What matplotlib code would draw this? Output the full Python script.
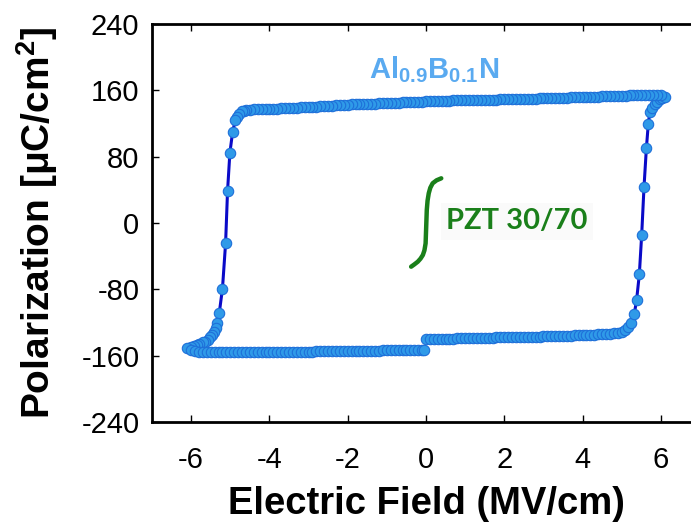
import numpy as np
import matplotlib
matplotlib.use("Agg")
import matplotlib.pyplot as plt

plt.rcParams['font.family'] = ['Liberation Sans', 'DejaVu Sans']
plt.rcParams['mathtext.fontset'] = 'custom'
plt.rcParams['mathtext.rm'] = 'Liberation Sans'
plt.rcParams['mathtext.bf'] = 'Liberation Sans:bold'
plt.rcParams['mathtext.it'] = 'Liberation Sans:italic'
plt.rcParams['axes.unicode_minus'] = False

# Al0.9B0.1N loop, in sweep order (E in MV/cm, P in uC/cm2)
# 1) bottom right, E going up from 0
e_up_low = [0.0, 0.1, 0.2, 0.3, 0.4, 0.5, 0.6, 0.7, 0.8, 0.9, 1.0, 1.1, 1.2, 1.3,
            1.4, 1.5, 1.6, 1.7, 1.8, 1.9, 2.0, 2.1, 2.2, 2.3, 2.4, 2.5, 2.6, 2.7,
            2.8, 2.9, 3.0, 3.1, 3.2, 3.3, 3.4, 3.5, 3.6, 3.7, 3.8, 3.9, 4.0, 4.1,
            4.2, 4.3, 4.4, 4.5, 4.6, 4.7, 4.8, 4.9, 5.0]
p_up_low = [-140.0, -139.9, -139.8, -139.7, -139.6, -139.5, -139.4, -139.3, -139.2,
            -139.1, -139.0, -138.9, -138.8, -138.7, -138.6, -138.4, -138.3, -138.1,
            -138.0, -137.9, -137.8, -137.7, -137.6, -137.5, -137.4, -137.3, -137.2,
            -137.1, -137.0, -136.9, -136.8, -136.6, -136.5, -136.3, -136.2, -136.0,
            -135.9, -135.7, -135.6, -135.4, -135.2, -135.0, -134.8, -134.6, -134.4,
            -134.1, -133.8, -133.4, -133.0, -132.4, -131.5]
# 2) switching at positive field, up to the tip
e_sw_pos = [5.09, 5.16, 5.23, 5.32, 5.38, 5.45, 5.51, 5.57, 5.63, 5.68, 5.72, 5.78,
            5.85, 5.91, 5.97, 6.04, 6.10]
p_sw_pos = [-129, -125, -121, -110, -93, -62, -14.5, 43.8, 90, 120, 134, 139,
            143, 146, 149, 151, 152.4]
# 3) top branch, E going back down
e_dn_top = [6.0, 5.9, 5.8, 5.7, 5.6, 5.5, 5.4, 5.3, 5.2, 5.1, 5.0, 4.9, 4.8, 4.7,
            4.6, 4.5, 4.4, 4.3, 4.2, 4.1, 4.0, 3.9, 3.8, 3.7, 3.6, 3.5, 3.4, 3.3,
            3.2, 3.1, 3.0, 2.9, 2.8, 2.7, 2.6, 2.5, 2.4, 2.3, 2.2, 2.1, 2.0, 1.9,
            1.8, 1.7, 1.6, 1.5, 1.4, 1.3, 1.2, 1.1, 1.0, 0.9, 0.8, 0.7, 0.6, 0.5,
            0.4, 0.3, 0.2, 0.1, 0.0, -0.1, -0.2, -0.3, -0.4, -0.5, -0.6, -0.7,
            -0.8, -0.9, -1.0, -1.1, -1.2, -1.3, -1.4, -1.5, -1.6, -1.7, -1.8, -1.9,
            -2.0, -2.1, -2.2, -2.3, -2.4, -2.5, -2.6, -2.7, -2.8, -2.9, -3.0, -3.1,
            -3.2, -3.3, -3.4, -3.5, -3.6, -3.7, -3.8, -3.9, -4.0, -4.1, -4.2, -4.3,
            -4.4, -4.5, -4.6]
p_dn_top = [154.6, 154.8, 154.8, 154.7, 154.5, 154.4, 154.2, 154.0, 153.8, 153.6,
            153.4, 153.3, 153.1, 153.0, 152.8, 152.7, 152.5, 152.4, 152.2, 152.1,
            151.9, 151.8, 151.6, 151.5, 151.3, 151.2, 151.0, 150.9, 150.7, 150.6,
            150.4, 150.3, 150.1, 150.0, 149.8, 149.7, 149.5, 149.4, 149.3, 149.2,
            149.1, 149.0, 148.9, 148.8, 148.7, 148.6, 148.5, 148.4, 148.3, 148.2,
            148.1, 148.0, 147.9, 147.8, 147.7, 147.6, 147.4, 147.2, 147.0, 146.8,
            146.6, 146.4, 146.2, 146.0, 145.8, 145.6, 145.4, 145.2, 145.0, 144.9,
            144.7, 144.5, 144.3, 144.1, 143.9, 143.8, 143.6, 143.4, 143.2, 143.0,
            142.7, 142.5, 142.2, 142.0, 141.7, 141.4, 141.1, 140.8, 140.5, 140.3,
            140.0, 139.7, 139.4, 139.1, 138.8, 138.6, 138.3, 138.1, 137.9, 137.8,
            137.6, 137.5, 137.3, 137.2, 137.0, 136.7, 136.2]
# 4) switching at negative field, down to the tip
e_sw_neg = [-4.65, -4.70, -4.77, -4.82, -4.87, -4.94, -5.01, -5.07, -5.12, -5.20,
            -5.28, -5.33, -5.37, -5.42, -5.46, -5.52, -5.58, -5.64, -5.70, -5.80,
            -5.86, -5.92, -6.01, -6.10]
p_sw_neg = [135.5, 134.5, 132, 128, 124, 110, 84.8, 38.6, -24.5, -79.2,
            -108, -121, -127, -131, -135, -138, -141, -143, -144, -146,
            -147, -148, -149.5, -151]
# 5) bottom left, E going back to 0
e_up_neg = [-6.0, -5.9, -5.8, -5.7, -5.6, -5.5, -5.4, -5.3, -5.2, -5.1, -5.0, -4.9,
            -4.8, -4.7, -4.6, -4.5, -4.4, -4.3, -4.2, -4.1, -4.0, -3.9, -3.8, -3.7,
            -3.6, -3.5, -3.4, -3.3, -3.2, -3.1, -3.0, -2.9, -2.8, -2.7, -2.6, -2.5,
            -2.4, -2.3, -2.2, -2.1, -2.0, -1.9, -1.8, -1.7, -1.6, -1.5, -1.4, -1.3,
            -1.2, -1.1, -1.0, -0.9, -0.8, -0.7, -0.6, -0.5, -0.4, -0.3, -0.2, -0.1,
            -0.05]
p_up_neg = [-153.0, -154.2, -155.0, -155.4, -155.6, -155.6, -155.6, -155.7, -155.7,
            -155.7, -155.7, -155.7, -155.7, -155.7, -155.7, -155.6, -155.6, -155.6,
            -155.6, -155.5, -155.5, -155.5, -155.4, -155.4, -155.3, -155.3, -155.2,
            -155.2, -155.1, -155.1, -155.0, -155.0, -154.9, -154.9, -154.8, -154.8,
            -154.7, -154.7, -154.6, -154.5, -154.4, -154.4, -154.3, -154.3, -154.2,
            -154.1, -154.0, -153.9, -153.8, -153.7, -153.6, -153.5, -153.4, -153.3,
            -153.2, -153.1, -153.0, -152.9, -152.8, -152.8, -153.0]

# PZT 30/70 curve
e_pzt = [-0.38, -0.30, -0.21, -0.14, -0.08, -0.04, -0.01, 0.005, 0.02, 0.04, 0.07,
         0.11, 0.17, 0.27, 0.39]
p_pzt = [-52.7, -50.0, -46.7, -43.0, -38.6, -33.0, -24.5, -4.5, 15.7, 27.0, 35.8,
         42.5, 47.9, 51.5, 53.9]

e_loop = e_up_low + e_sw_pos + e_dn_top + e_sw_neg + e_up_neg
p_loop = p_up_low + p_sw_pos + p_dn_top + p_sw_neg + p_up_neg

fig = plt.figure(figsize=(6.91, 5.29), dpi=100)
ax = fig.add_axes([152 / 691, 107 / 529, 548 / 691, 398 / 529])

ax.plot(e_loop, p_loop, color='#0a0ac8', lw=2.2, marker='o', ms=7.5,
        mfc='#2f9ae8', mec='#1e6fd9', mew=0.8, zorder=3)
ax.plot(e_pzt, p_pzt, color='#1a7f1a', lw=3.2, solid_capstyle='round', zorder=2)

ax.text(0.2, 175, r'$\mathbf{Al_{0.9}B_{0.1}N}$', color='#5aaaf0', fontsize=21,
        ha='center', va='baseline')
ax.text(0.52, 2, 'PZT 30/70', color='#1a7f1a', fontsize=21, fontweight='bold',
        family=['Lato', 'DejaVu Sans'], ha='left', va='center',
        bbox=dict(facecolor='#fafafa', edgecolor='none', pad=4))

ax.set_xlim(-7, 7)
ax.set_ylim(-240, 240)
ax.set_xticks([-6, -4, -2, 0, 2, 4, 6])
ax.set_yticks([-240, -160, -80, 0, 80, 160, 240])
ax.tick_params(direction='in', length=5, width=1, labelsize=21, top=True, right=False)
ax.tick_params(axis='x', pad=17)
ax.tick_params(axis='y', pad=9)
for s in ax.spines.values():
    s.set_linewidth(2)

ax.set_xlabel('Electric Field (MV/cm)', fontsize=27.5, fontweight='bold')
ax.set_ylabel(r'Polarization [μC/cm$^\mathbf{2}$]', fontsize=28, fontweight='bold')
ax.xaxis.set_label_coords(0.5, -0.162)
ax.yaxis.set_label_coords(-0.168, 0.5)

fig.savefig('out.png', dpi=100)
